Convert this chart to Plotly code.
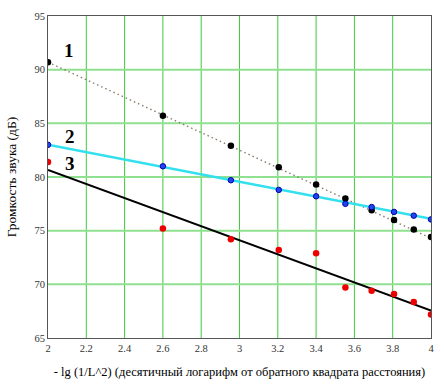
import plotly.graph_objects as go

# Data
x_pts = [2.0, 2.6, 2.955, 3.205, 3.4, 3.553, 3.69, 3.807, 3.91, 4.0]
s1_y = [90.7, 85.7, 82.9, 80.9, 79.3, 78.0, 76.9, 76.0, 75.1, 74.4]
s2_y = [83.0, 81.0, 79.7, 78.8, 78.2, 77.5, 77.2, 76.75, 76.4, 76.05]
s3_y = [81.4, 75.2, 74.2, 73.2, 72.9, 69.7, 69.4, 69.1, 68.35, 67.2]

fit_x = [2.0, 4.0]
fit1_y = [90.7, 74.3]
fit2_y = [83.0, 76.1]
fit3_y = [80.65, 67.55]

labels = ["1", "2", "3"]
label_x = [2.11, 2.115, 2.115]
label_y = [91.8, 83.75, 81.25]

x_ticks = [2, 2.2, 2.4, 2.6, 2.8, 3, 3.2, 3.4, 3.6, 3.8, 4]
x_tick_text = ["2", "2.2", "2.4", "2.6", "2.8", "3", "3.2", "3.4", "3.6", "3.8", "4"]
y_ticks = [65, 70, 75, 80, 85, 90, 95]

x_title = "- lg (1/L^2) (десятичный логарифм от обратного квадрата расстояния)"
y_title = "Громкость звука (дБ)"

serif = "Liberation Serif, Times New Roman, serif"

fig = go.Figure()

# vertical grid lines (thin, bright green)
for xv in x_ticks[1:-1]:
    fig.add_shape(type="line", x0=xv, x1=xv, y0=65, y1=95, xref="x", yref="y",
                  line=dict(color="#3ccc3c", width=1), layer="below")
# horizontal grid lines (thicker, light green)
for yv in y_ticks[1:-1]:
    fig.add_shape(type="line", x0=2, x1=4, y0=yv, y1=yv, xref="x", yref="y",
                  line=dict(color="#8fe08f", width=2), layer="below")

fig.add_trace(go.Scatter(x=fit_x, y=fit1_y, mode="lines",
                         line=dict(color="#8c7b6b", width=1.4, dash="1.5px,3px"),
                         showlegend=False, hoverinfo="skip"))
fig.add_trace(go.Scatter(x=fit_x, y=fit2_y, mode="lines",
                         line=dict(color="#33e0ee", width=2.5),
                         showlegend=False, hoverinfo="skip"))
fig.add_trace(go.Scatter(x=fit_x, y=fit3_y, mode="lines",
                         line=dict(color="#000000", width=2),
                         showlegend=False, hoverinfo="skip"))

fig.add_trace(go.Scatter(x=x_pts, y=s1_y, mode="markers",
                         marker=dict(color="#000000", size=6.5),
                         showlegend=False))
fig.add_trace(go.Scatter(x=x_pts, y=s2_y, mode="markers",
                         marker=dict(color="#2244ee", size=5.5,
                                     line=dict(color="#0000aa", width=1)),
                         showlegend=False))
fig.add_trace(go.Scatter(x=x_pts, y=s3_y, mode="markers",
                         marker=dict(color="#ee0000", size=6.5),
                         showlegend=False))

for t, lx, ly in zip(labels, label_x, label_y):
    fig.add_annotation(x=lx, y=ly, text="<b>" + t + "</b>", showarrow=False,
                       font=dict(family=serif, size=19, color="#000000"))

fig.update_xaxes(range=[2, 4], tickvals=x_ticks, ticktext=x_tick_text,
                 showgrid=False, zeroline=False, showline=True, linecolor="#555555",
                 linewidth=1, mirror=True, ticks="", ticklen=0,
                 tickfont=dict(family=serif, size=10.5, color="#333333"),
                 title=dict(text=x_title, font=dict(family=serif, size=12.5, color="#000000"),
                            standoff=14))
fig.update_yaxes(range=[65, 95], tickvals=y_ticks,
                 showgrid=False, zeroline=False, showline=True, linecolor="#555555",
                 linewidth=1, mirror=True, ticks="", ticklen=0,
                 tickfont=dict(family=serif, size=10.5, color="#333333"),
                 title=dict(text=y_title, font=dict(family=serif, size=13.5, color="#000000"),
                            standoff=14))

fig.update_layout(width=444, height=390,
                  margin=dict(l=48, r=10, t=16, b=52),
                  plot_bgcolor="#ffffff", paper_bgcolor="#ffffff")

fig.write_html("out.html", config={"displayModeBar": False},
               post_script="document.body.style.margin='0';document.body.style.overflow='hidden';")
